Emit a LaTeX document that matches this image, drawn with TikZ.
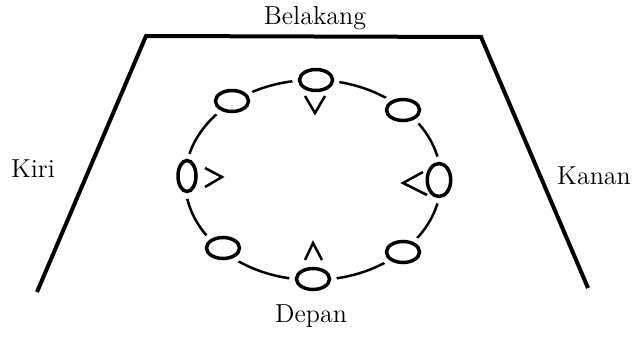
\documentclass[tikz,border=0pt]{standalone}
\usepackage{tikz}
\usetikzlibrary{calc,shapes.geometric}

\begin{document}
\begin{tikzpicture}[x=0.5pt, y=0.5pt]

        % Styles
        \tikzset{
            label/.style={font=\fontsize{13}{15}\selectfont, inner sep=0pt},
            kursi/.style={ellipse, draw, line width=1.75pt, inner sep=0pt,
                preaction={draw=white, line width=7pt}, fill=white},
            tebar/.style={minimum width=16.5pt, minimum height=10.5pt},
            tegak/.style={minimum width=9pt, minimum height=15.5pt}
        }

        \useasboundingbox (0,0) rectangle (636,338);

        % Ruangan
        \draw[line width=2pt, line join=miter] (37,46) -- (146,302) -- (481,301) -- (588,50);

        % Lingkaran
        \draw[line width=1.25pt] (313,158) ellipse [x radius=128, y radius=100];

        % Kursi
        \foreach \nama/\x/\y in {atas/316/258, kiriatas/232/237, kananatas/403/228,
                                  kiribawah/223/90, kananbawah/403/86, bawah/313/59} {
            \node[kursi, tebar] (\nama) at (\x,\y) {};
        }
        \node[kursi, tegak] (kirit) at (187,162) {};
        \node[kursi, tegak, minimum width=11.75pt, minimum height=16.5pt] (kanant) at (439,158) {};

        % Arah hadap
        \draw[line width=1.25pt] (305,242) -- (315,225) -- (325,242);
        \draw[line width=1.25pt] (205,170) -- (222,161) -- (205,151);
        \draw[line width=1.25pt] (423,166) -- (403,155) -- (427,143);
        \draw[line width=1.25pt] (305,78) -- (313,95) -- (322,78);

        % Label
        \node[label] (belakang) at (315,320) {Belakang};
        \node[label] (kiri) at (33,169) {Kiri};
        \node[label] (kanan) at (594,162) {Kanan};
        \node[label] (depan) at (311,22) {Depan};

\end{tikzpicture}
\end{document}
